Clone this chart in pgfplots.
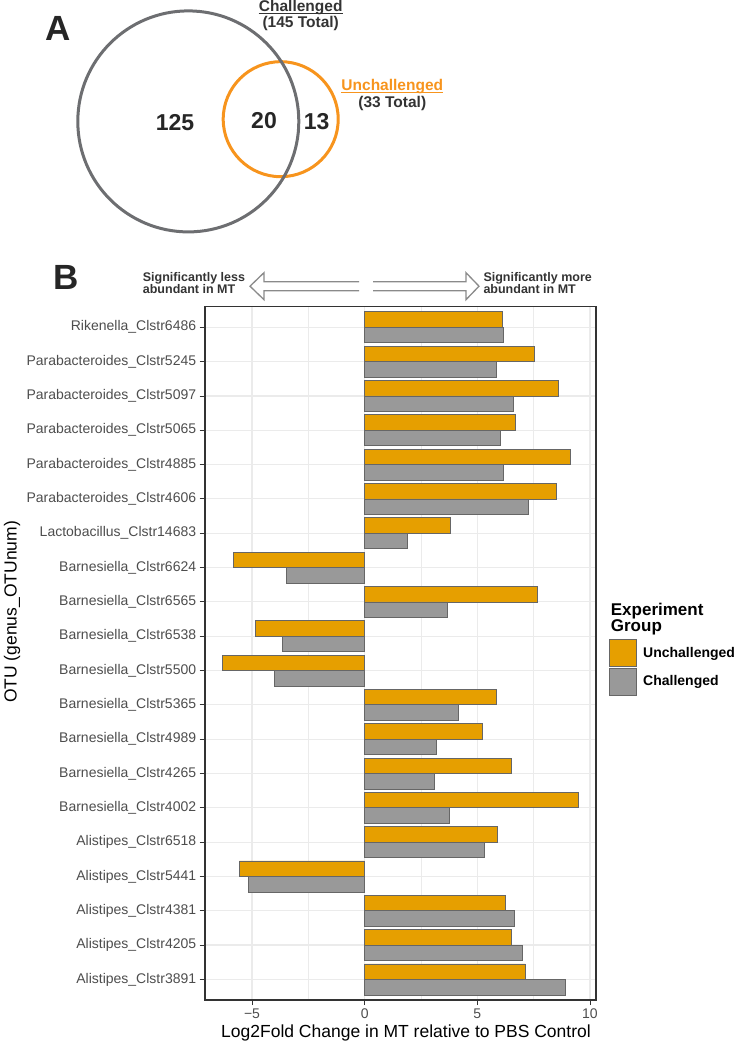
\documentclass[border=0pt]{standalone}
\usepackage{fontspec}
\setmainfont{Liberation Sans}
\usepackage{pgfplots}
\usepackage{pgfplotstable}
\pgfplotsset{compat=1.18}
\definecolor{ggorange}{HTML}{E69F00}
\definecolor{gggray}{HTML}{999999}
\definecolor{venngray}{HTML}{6D6E71}
\definecolor{vennorange}{HTML}{F7941D}
\definecolor{gridc}{HTML}{EBEBEB}
\definecolor{framec}{HTML}{333333}
\definecolor{ticklab}{HTML}{4D4D4D}
\definecolor{arrowc}{HTML}{8A8A8A}
\definecolor{darktext}{HTML}{333333}

\pgfplotstableread{
row U C
1 7.13 8.92
2 6.51 7.00
3 6.24 6.66
4 -5.56 -5.16
5 5.89 5.31
6 9.48 3.76
7 6.51 3.09
8 5.21 3.18
9 5.84 4.16
10 -6.30 -4.01
11 -4.85 -3.65
12 7.65 3.67
13 -5.81 -3.48
14 3.80 1.91
15 8.51 7.28
16 9.13 6.15
17 6.70 6.02
18 8.58 6.60
19 7.54 5.86
20 6.11 6.17
}\datatable

\begin{document}
\begin{tikzpicture}
\useasboundingbox (0,0) rectangle (735pt,1043pt);
% overlay axis in pixel coordinates (y from top)
\begin{axis}[at={(0,0)}, anchor=south west, width=735pt, height=1043pt,
  scale only axis, xmin=0, xmax=735, ymin=0, ymax=1043, y dir=reverse,
  hide axis, clip=false]
  % Venn diagram
  \draw[vennorange, line width=3pt] (axis cs:280.7,119.2) circle[radius=57.5pt];
  \draw[venngray, line width=3pt] (axis cs:188.3,121.4) circle[radius=110.5pt];
  \node[anchor=base, inner sep=0pt, font=\bfseries\fontsize{23}{26}\selectfont, text=black!85] at (axis cs:175,130.7) {125};
  \node[anchor=base, inner sep=0pt, font=\bfseries\fontsize{23}{26}\selectfont, text=black!85] at (axis cs:264,128.3) {20};
  \node[anchor=base, inner sep=0pt, font=\bfseries\fontsize{23}{26}\selectfont, text=black!85] at (axis cs:316.7,130) {13};
  \node[anchor=base west, inner sep=0pt, font=\bfseries\fontsize{35}{38}\selectfont, text=black!85] at (axis cs:45.7,40.7) {A};
  \node[anchor=base, inner sep=0pt, font=\bfseries\fontsize{15.5}{17}\selectfont, text=darktext] (ch) at (axis cs:300.7,11.7) {Challenged};
  \draw[darktext, line width=1.4pt] ([yshift=-1.8pt]ch.base west) -- ([yshift=-1.8pt]ch.base east);
  \node[anchor=base, inner sep=0pt, font=\bfseries\fontsize{15.5}{17}\selectfont, text=darktext] at (axis cs:300.7,27.7) {(145 Total)};
  \node[anchor=base, inner sep=0pt, font=\bfseries\fontsize{15.5}{17}\selectfont, text=vennorange] (un) at (axis cs:392.3,90.7) {Unchallenged};
  \draw[vennorange, line width=1.4pt] ([yshift=-1.8pt]un.base west) -- ([yshift=-1.8pt]un.base east);
  \node[anchor=base, inner sep=0pt, font=\bfseries\fontsize{15.5}{17}\selectfont, text=darktext] at (axis cs:392.3,107.3) {(33 Total)};
  % Panel B annotations
  \node[anchor=base west, inner sep=0pt, font=\bfseries\fontsize{35}{38}\selectfont, text=black!85] at (axis cs:53,289.3) {B};
  \draw[arrowc, line width=1.3pt, line join=miter]
    (axis cs:359,281.7) -- (axis cs:264,281.7) -- (axis cs:264,272.7) -- (axis cs:250,286.2)
    -- (axis cs:264,299.7) -- (axis cs:264,290.7) -- (axis cs:359,290.7);
  \draw[arrowc, line width=1.3pt, line join=miter]
    (axis cs:373,281.7) -- (axis cs:466,281.7) -- (axis cs:466,272.7) -- (axis cs:479,286.2)
    -- (axis cs:466,299.7) -- (axis cs:466,290.7) -- (axis cs:373,290.7);
  \node[anchor=base west, inner sep=0pt, font=\bfseries\fontsize{12.5}{14}\selectfont, text=darktext] at (axis cs:142.7,281.7) {Significantly less};
  \node[anchor=base west, inner sep=0pt, font=\bfseries\fontsize{12.5}{14}\selectfont, text=darktext] at (axis cs:142.7,293.3) {abundant in MT};
  \node[anchor=base west, inner sep=0pt, font=\bfseries\fontsize{12.5}{14}\selectfont, text=darktext] at (axis cs:483.3,281.7) {Significantly more};
  \node[anchor=base west, inner sep=0pt, font=\bfseries\fontsize{12.5}{14}\selectfont, text=darktext] at (axis cs:483.3,293.3) {abundant in MT};
  % legend title
  \node[anchor=base west, inner sep=0pt, font=\bfseries\fontsize{17}{18}\selectfont, text=black] at (axis cs:610.7,615) {Experiment};
  \node[anchor=base west, inner sep=0pt, font=\bfseries\fontsize{17}{18}\selectfont, text=black] at (axis cs:610.7,631.7) {Group};
\end{axis}
% bar chart
\begin{axis}[at={(204.7pt,43pt)}, anchor=south west,
  width=391.3pt, height=693.3pt, scale only axis,
  xmin=-7.1, xmax=10.27, ymin=0.4, ymax=20.6,
  xbar, bar width=0.45,
  xtick={-5,0,5,10}, xticklabels={−5,0,5,10},
  minor xtick={-2.5,2.5,7.5},
  ytick={1,...,20},
  yticklabels={Alistipes\_Clstr3891,Alistipes\_Clstr4205,Alistipes\_Clstr4381,Alistipes\_Clstr5441,Alistipes\_Clstr6518,Barnesiella\_Clstr4002,Barnesiella\_Clstr4265,Barnesiella\_Clstr4989,Barnesiella\_Clstr5365,Barnesiella\_Clstr5500,Barnesiella\_Clstr6538,Barnesiella\_Clstr6565,Barnesiella\_Clstr6624,Lactobacillus\_Clstr14683,Parabacteroides\_Clstr4606,Parabacteroides\_Clstr4885,Parabacteroides\_Clstr5065,Parabacteroides\_Clstr5097,Parabacteroides\_Clstr5245,Rikenella\_Clstr6486},
  xmajorgrids, ymajorgrids, xminorgrids,
  major grid style={gridc, line width=1.2pt},
  minor grid style={gridc, line width=0.7pt},
  axis line style={framec, line width=1.6pt},
  tick style={framec, line width=0.8pt},
  major tick length=5pt, minor tick length=0pt, tick align=outside, tick pos=left,
  tick label style={font=\fontsize{14}{16}\selectfont, text=ticklab},
  xlabel={Log2Fold Change in MT relative to PBS Control},
  ylabel={OTU (genus\_OTUnum)},
  xlabel style={font=\fontsize{17.5}{20}\selectfont, at={(axis description cs:0.5144,-0.0476)}, anchor=center},
  ylabel style={font=\fontsize{17.5}{20}\selectfont, at={(axis description cs:-0.492,0.5596)}, anchor=center, rotate=0},
  legend style={at={(axis description cs:1.0332,0.5207)}, anchor=north west, draw=none, fill=none,
    inner sep=0pt, outer sep=0pt, row sep=1pt, font=\bfseries\fontsize{14}{16}\selectfont,
    nodes={inner sep=0pt}},
  legend cell align=left,
]
\addplot[xbar, bar shift=0.225, fill=ggorange, draw=black!60, line width=0.7pt,
  legend image code/.code={\draw[fill=ggorange, draw=black!60, line width=0.7pt] (0pt,-13.5pt) rectangle (27pt,13.5pt);}]
  table[x=U, y=row] {\datatable};
\addlegendentry{\hspace{6.5pt}Unchallenged}
\addplot[xbar, bar shift=-0.225, fill=gggray, draw=black!60, line width=0.7pt,
  legend image code/.code={\draw[fill=gggray, draw=black!60, line width=0.7pt] (0pt,-13.5pt) rectangle (27pt,13.5pt);}]
  table[x=C, y=row] {\datatable};
\addlegendentry{\hspace{6.5pt}Challenged}
\end{axis}
\end{tikzpicture}
\end{document}
